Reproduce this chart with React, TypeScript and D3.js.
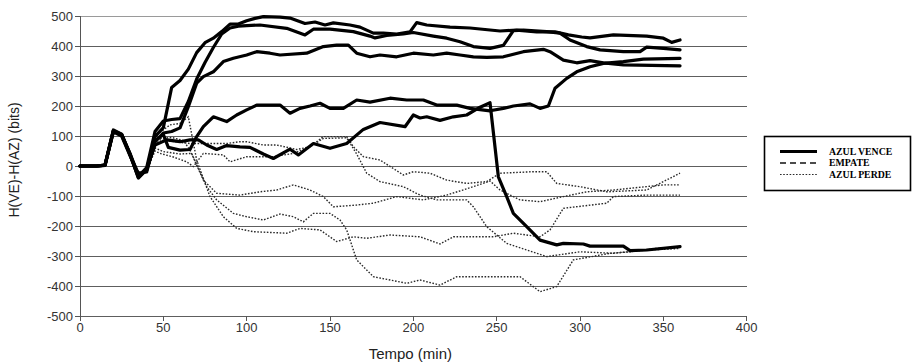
import React from "react";
import * as d3 from "d3";

// Tick values for both axes
const X_TICKS = [0, 50, 100, 150, 200, 250, 300, 350, 400];
const Y_TICKS = [-500, -400, -300, -200, -100, 0, 100, 200, 300, 400, 500];

// Legend entries
const LEGEND_LABELS = ["AZUL VENCE", "EMPATE", "AZUL PERDE"];

// Series: [tempo (min), H(VE)-H(AZ) (bits)]
// Games won by blue (AZUL VENCE)
const venceA = [[0,0],[5,0],[10,0],[15,3],[20,118],[25,105],[30,40],[35,-40],[40,-12],[45,98],[50,128],[55,262],[60,285],[65,323],[70,378],[75,411],[80,426],[85,448],[90,473],[95,473],[100,484],[105,492],[110,498],[120,496],[126,493],[135,475],[141,480],[147,470],[152,477],[162,470],[168,463],[176,443],[182,443],[190,440],[198,447],[202,478],[208,470],[222,463],[234,460],[252,450],[262,453],[274,447],[285,447],[293,437],[301,430],[306,427],[320,437],[340,433],[350,426],[355,412],[360,420]];
const venceB = [[0,0],[5,0],[10,0],[15,3],[20,115],[25,103],[30,38],[35,-35],[40,-5],[45,115],[50,150],[55,155],[60,158],[65,215],[70,290],[75,345],[80,395],[85,440],[90,460],[95,466],[100,468],[108,470],[124,459],[135,437],[140,456],[150,456],[164,448],[174,433],[177,427],[184,435],[194,440],[200,445],[212,433],[220,426],[228,414],[236,398],[246,392],[254,402],[260,451],[266,453],[280,448],[288,443],[294,420],[304,398],[312,387],[326,381],[336,381],[340,396],[350,392],[360,387]];
const venceC = [[0,0],[5,0],[10,0],[15,2],[20,117],[25,104],[30,42],[35,-30],[40,-15],[45,80],[50,110],[55,115],[60,127],[65,198],[70,276],[74,298],[80,314],[86,348],[92,359],[100,370],[106,381],[114,376],[120,370],[136,376],[146,398],[154,403],[161,403],[166,376],[174,364],[180,370],[190,364],[200,376],[212,370],[220,376],[228,370],[236,364],[244,362],[254,364],[266,381],[278,389],[282,381],[290,353],[298,344],[306,351],[314,344],[326,337],[360,334]];
const venceD = [[0,0],[5,0],[10,0],[15,2],[20,114],[25,100],[30,35],[35,-25],[40,-20],[45,85],[50,105],[53,62],[60,53],[66,55],[70,98],[74,131],[80,164],[88,148],[94,170],[100,187],[106,203],[112,203],[120,203],[126,176],[132,192],[138,200],[144,209],[150,192],[158,192],[166,220],[174,213],[186,226],[196,220],[206,220],[214,203],[226,203],[234,192],[246,184],[254,192],[260,200],[270,207],[276,192],[281,200],[285,259],[292,292],[298,314],[306,331],[314,342],[326,348],[338,356],[360,359]];
const venceE = [[0,0],[5,0],[10,0],[15,3],[20,120],[25,106],[30,38],[35,-38],[40,-10],[45,70],[52,87],[60,81],[66,87],[71,87],[76,70],[82,55],[88,68],[96,64],[102,62],[110,40],[116,25],[126,56],[131,37],[140,75],[150,59],[160,75],[170,122],[180,145],[195,131],[200,170],[204,160],[208,164],[216,152],[224,164],[232,170],[240,196],[246,211],[251,-36],[256,-102],[260,-158],[268,-202],[276,-247],[286,-263],[290,-258],[302,-260],[306,-267],[326,-267],[330,-282],[340,-280],[360,-269]];

// Drawn games (EMPATE): none recorded
const empate: number[][][] = [];

// Games lost by blue (AZUL PERDE)
const perdeA = [[0,0],[5,0],[10,0],[15,2],[20,116],[25,102],[30,36],[35,-28],[40,-8],[45,70],[48,87],[66,75],[88,75],[96,81],[100,81],[110,70],[118,70],[130,55],[138,64],[146,98],[160,98],[164,64],[170,31],[180,20],[194,-30],[200,-19],[210,-24],[220,-47],[232,-58],[244,-52],[252,-24],[272,-19],[280,-19],[286,-58],[300,-69],[316,-86],[340,-80],[360,-24]];
const perdeB = [[0,0],[5,0],[10,0],[15,2],[20,113],[25,100],[30,34],[35,-22],[40,-14],[45,50],[48,42],[56,30],[64,14],[68,-2],[74,42],[86,37],[90,14],[100,31],[116,31],[128,42],[138,64],[146,92],[160,94],[166,40],[172,-24],[180,-52],[194,-69],[204,-97],[214,-113],[232,-113],[236,-136],[244,-202],[256,-258],[280,-302],[300,-286],[320,-291],[340,-280],[360,-275]];
const perdeC = [[0,0],[5,0],[10,0],[15,3],[20,117],[25,104],[30,40],[35,-32],[40,-5],[45,90],[55,95],[62,85],[66,53],[74,-47],[82,-91],[96,-97],[108,-86],[118,-80],[128,-63],[138,-80],[146,-102],[152,-136],[166,-130],[176,-124],[190,-102],[206,-113],[220,-97],[236,-69],[246,-50],[252,-80],[264,-113],[276,-119],[290,-102],[304,-86],[320,-80],[350,-63],[360,-63]];
const perdeD = [[0,0],[5,0],[10,0],[15,2],[20,112],[25,101],[30,37],[35,-20],[40,-18],[45,60],[50,48],[60,40],[67,42],[76,-69],[82,-113],[92,-158],[100,-169],[110,-180],[120,-160],[128,-169],[134,-186],[140,-158],[150,-158],[156,-180],[160,-213],[166,-313],[176,-369],[196,-391],[204,-380],[216,-397],[226,-369],[264,-369],[276,-419],[286,-402],[296,-313],[318,-291],[330,-286],[345,-275],[360,-270]];
const perdeE = [[0,0],[5,0],[10,0],[15,3],[20,118],[25,104],[30,39],[35,-30],[40,-6],[45,100],[54,137],[60,142],[65,164],[70,20],[78,-102],[86,-169],[94,-208],[104,-219],[124,-224],[132,-208],[144,-213],[154,-252],[164,-236],[172,-241],[186,-230],[204,-236],[216,-260],[224,-236],[248,-236],[260,-224],[276,-236],[282,-213],[290,-141],[316,-124],[320,-102],[340,-97],[360,-97]];

const venceSeries = [venceA, venceB, venceC, venceD, venceE];
const perdeSeries = [perdeA, perdeB, perdeC, perdeD, perdeE];

const W = 913;
const H = 364;
const PLOT = { left: 80, right: 746.7, top: 16, bottom: 316 };

const AXIS_FONT = "'Liberation Sans', Arial, sans-serif";
const LEGEND_FONT = "'Liberation Serif', 'Times New Roman', serif";

const STYLE_VENCE = { stroke: "#000", width: 3.2, dash: undefined as string | undefined };
const STYLE_EMPATE = { stroke: "#111", width: 1.4, dash: "6 4" };
const STYLE_PERDE = { stroke: "#2a2a2a", width: 1.4, dash: "1.6 1.6" };

export default function App() {
  const x = d3.scaleLinear().domain([0, 400]).range([PLOT.left, PLOT.right]);
  const y = d3.scaleLinear().domain([-500, 500]).range([PLOT.bottom, PLOT.top]);
  const line = d3
    .line<number[]>()
    .x((d) => x(d[0]))
    .y((d) => y(d[1]));

  const legendStyles = [STYLE_VENCE, STYLE_EMPATE, STYLE_PERDE];

  return (
    <svg
      width={W}
      height={H}
      viewBox={`0 0 ${W} ${H}`}
      style={{ position: "absolute", left: 0, top: 0, background: "#fff" }}
    >
      <rect x={0} y={0} width={W} height={H} fill="#fff" />

      {/* horizontal grid lines */}
      {Y_TICKS.map((v) => (
        <line
          key={`g${v}`}
          x1={x(0)}
          x2={x(400)}
          y1={y(v)}
          y2={y(v)}
          stroke={v === 500 ? "#9a9a9a" : "#5e5e5e"}
          strokeWidth={1}
          shapeRendering="crispEdges"
        />
      ))}

      {/* y axis */}
      <line x1={x(0)} x2={x(0)} y1={y(500)} y2={y(-500)} stroke="#555" strokeWidth={1} shapeRendering="crispEdges" />
      {Y_TICKS.map((v) => (
        <g key={`yt${v}`}>
          <line x1={x(0) - 5} x2={x(0)} y1={y(v)} y2={y(v)} stroke="#555" shapeRendering="crispEdges" />
          <text
            x={x(0) - 7}
            y={y(v)}
            dy="0.35em"
            textAnchor="end"
            fontFamily={AXIS_FONT}
            fontSize={13}
            fill="#333"
          >
            {v}
          </text>
        </g>
      ))}

      {/* x axis ticks */}
      {X_TICKS.map((t) => (
        <g key={`xt${t}`}>
          <line x1={x(t)} x2={x(t)} y1={y(-500)} y2={y(-500) + 5} stroke="#555" shapeRendering="crispEdges" />
          <text
            x={x(t)}
            y={y(-500) + 16}
            textAnchor="middle"
            fontFamily={AXIS_FONT}
            fontSize={13}
            fill="#333"
          >
            {t}
          </text>
        </g>
      ))}

      {/* axis titles */}
      <text
        x={(PLOT.left + PLOT.right) / 2 - 3}
        y={359}
        textAnchor="middle"
        fontFamily={AXIS_FONT}
        fontSize={15}
        fill="#222"
      >
        Tempo (min)
      </text>
      <text
        transform={`translate(19, 160) rotate(-90)`}
        textAnchor="middle"
        fontFamily={AXIS_FONT}
        fontSize={14}
        fill="#222"
      >
        H(VE)-H(AZ) (bits)
      </text>

      {/* lost games */}
      {perdeSeries.map((s, i) => (
        <path
          key={`p${i}`}
          d={line(s) ?? undefined}
          fill="none"
          stroke={STYLE_PERDE.stroke}
          strokeWidth={STYLE_PERDE.width}
          strokeDasharray={STYLE_PERDE.dash}
        />
      ))}

      {/* drawn games */}
      {empate.map((s, i) => (
        <path
          key={`e${i}`}
          d={line(s) ?? undefined}
          fill="none"
          stroke={STYLE_EMPATE.stroke}
          strokeWidth={STYLE_EMPATE.width}
          strokeDasharray={STYLE_EMPATE.dash}
        />
      ))}

      {/* won games */}
      {venceSeries.map((s, i) => (
        <path
          key={`v${i}`}
          d={line(s) ?? undefined}
          fill="none"
          stroke={STYLE_VENCE.stroke}
          strokeWidth={STYLE_VENCE.width}
          strokeLinejoin="round"
          strokeLinecap="round"
        />
      ))}

      {/* legend */}
      <g>
        <rect x={764.5} y={136.5} width={146} height={54} fill="#fff" stroke="#000" strokeWidth={1.6} />
        {LEGEND_LABELS.map((label, i) => {
          const st = legendStyles[i];
          const ly = 151.5 + i * 11.5;
          return (
            <g key={label}>
              <line
                x1={780}
                x2={817}
                y1={ly}
                y2={ly}
                stroke={st.stroke}
                strokeWidth={i === 0 ? 3 : i === 1 ? 1.4 : 1.2}
                strokeDasharray={st.dash}
              />
              <text
                x={829}
                y={ly}
                dy="0.35em"
                fontFamily={LEGEND_FONT}
                fontWeight="bold"
                fontSize={9.8}
                fill="#000"
              >
                {label}
              </text>
            </g>
          );
        })}
      </g>
    </svg>
  );
}
